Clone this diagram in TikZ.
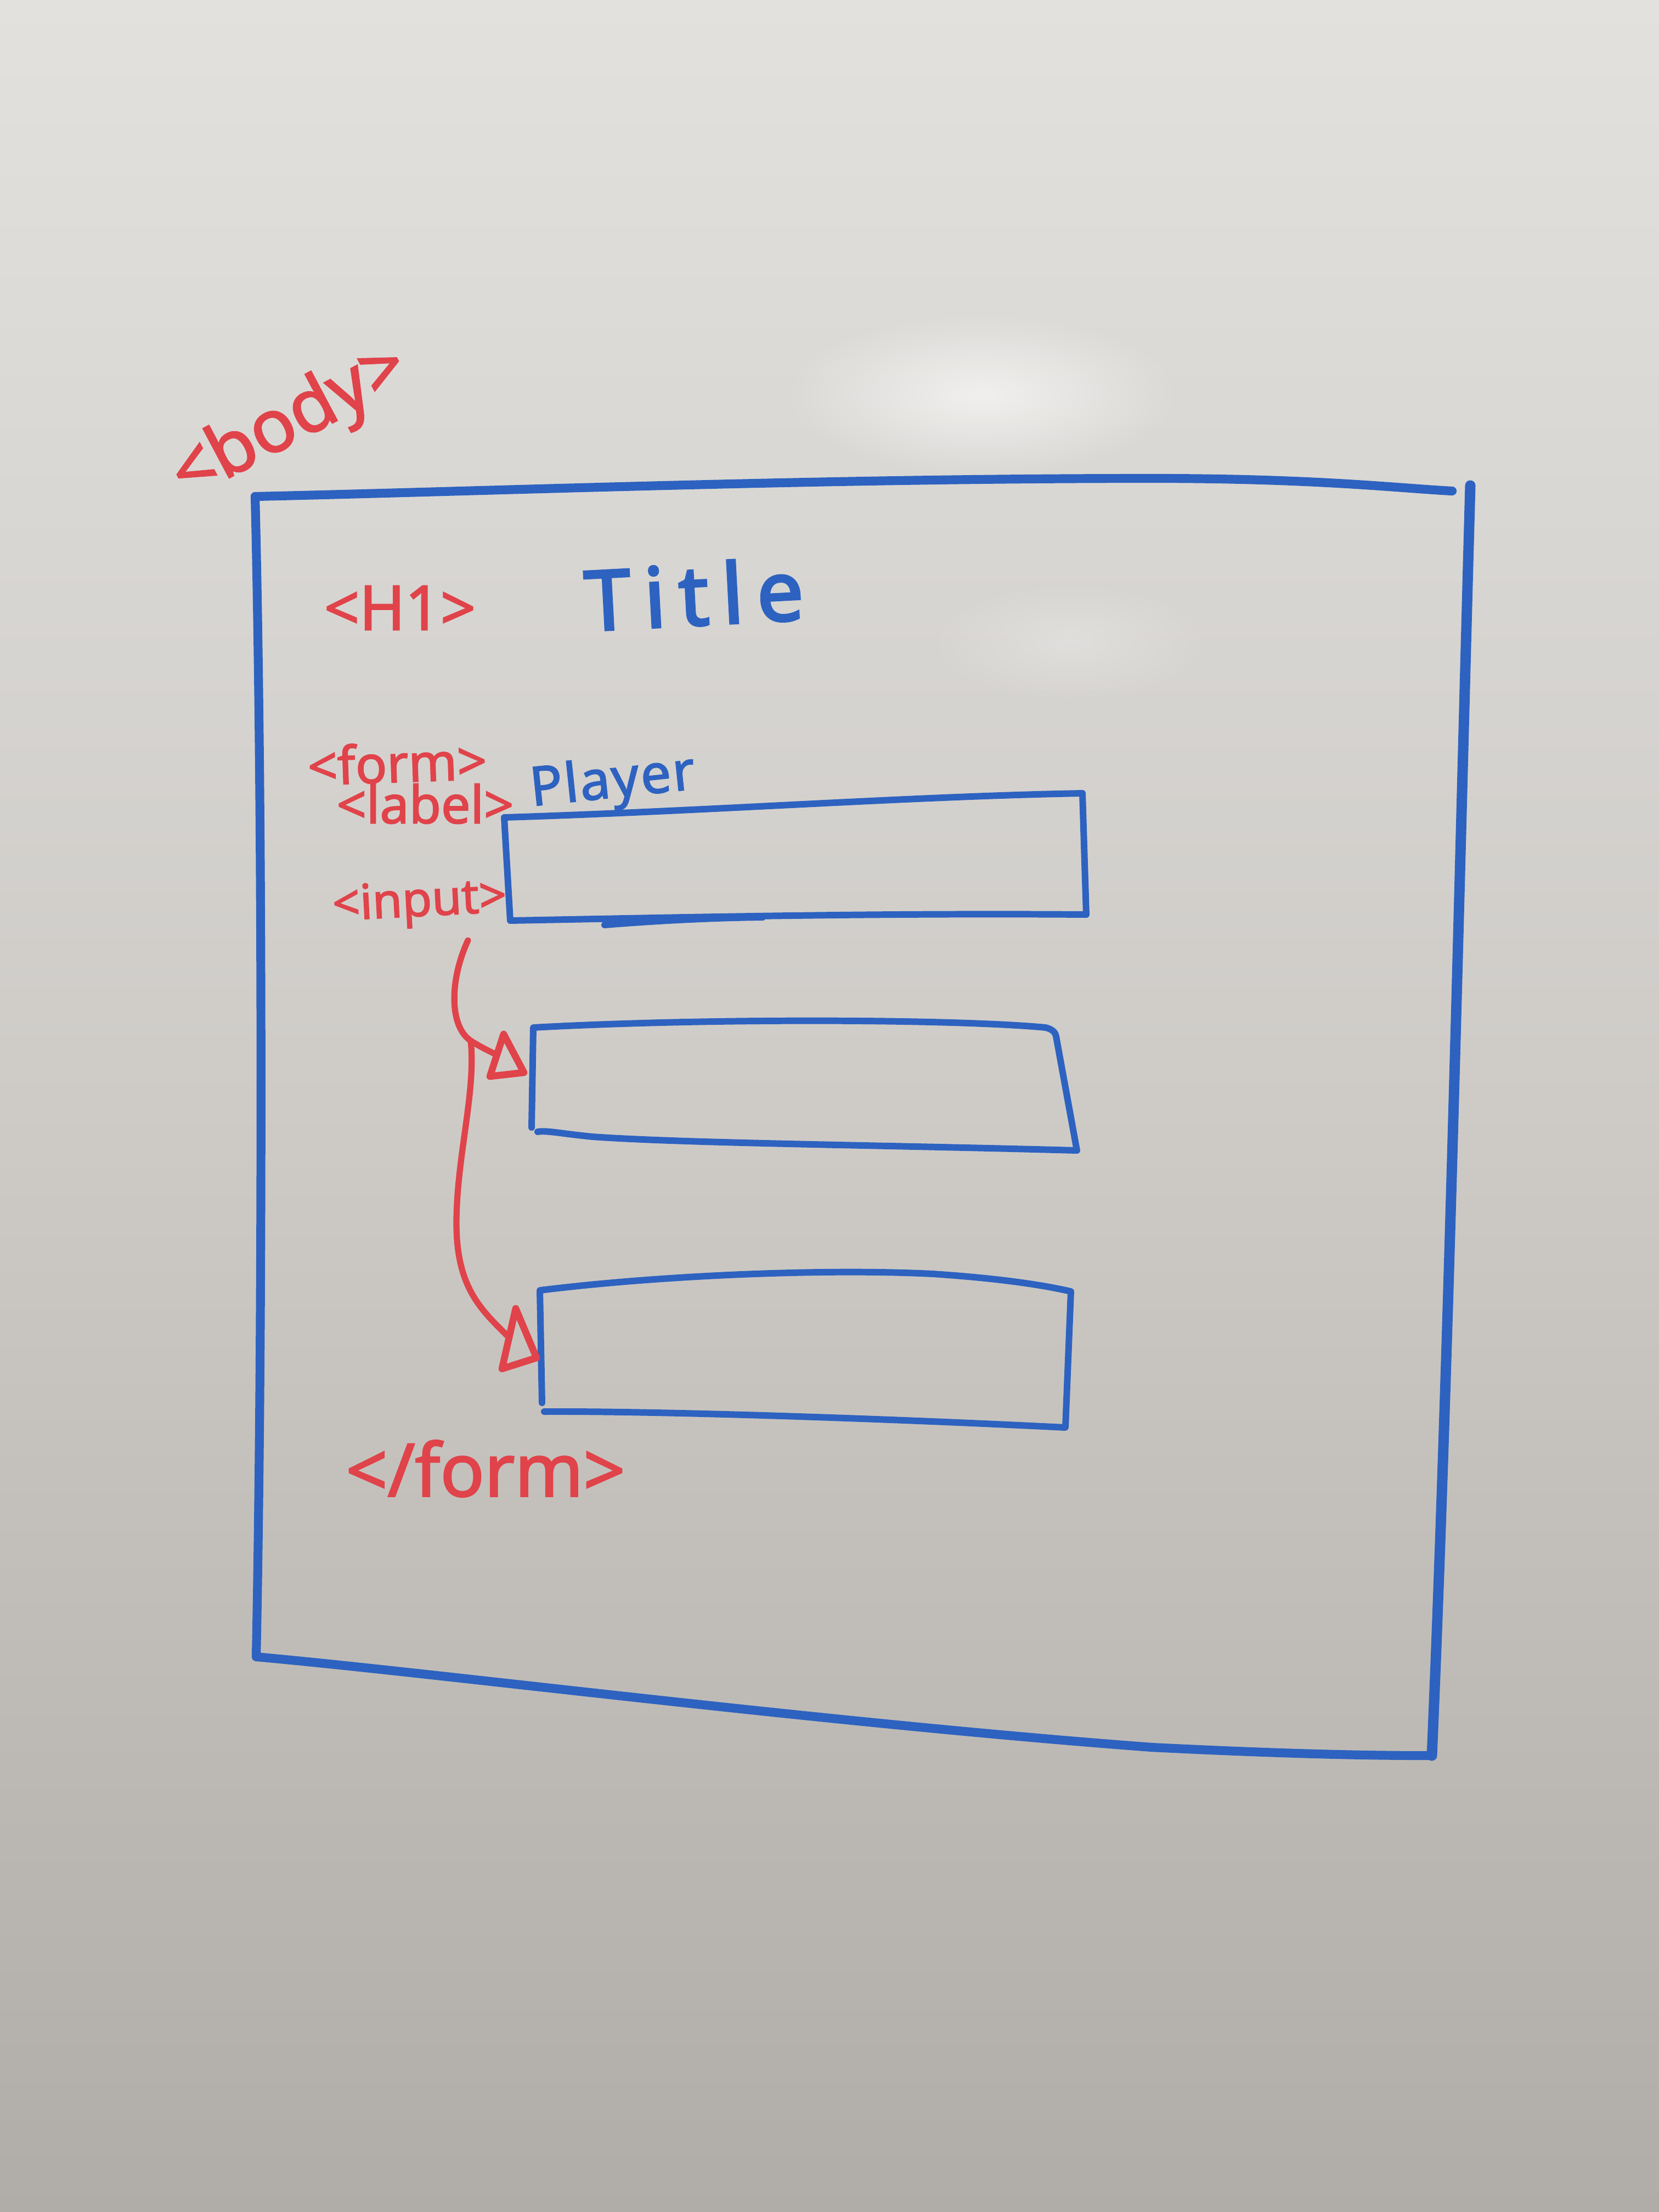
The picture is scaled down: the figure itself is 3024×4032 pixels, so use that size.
\documentclass[tikz,border=0pt]{standalone}
\usepackage{fontspec}
\setmainfont{Noto Sans}
\newfontfamily\marker{Noto Sans}[FakeBold=2]
\newfontfamily\thickmarker{Noto Sans}[FakeBold=3]
\usetikzlibrary{arrows.meta,fadings}
\definecolor{boardtop}{HTML}{E2E1DE}
\definecolor{boardmid}{HTML}{CECBC7}
\definecolor{boardbot}{HTML}{B0ADA8}
\definecolor{markerblue}{HTML}{2D62C0}
\definecolor{markerred}{HTML}{E0434A}
\tikzfading[name=glow, inner color=transparent!0, outer color=transparent!100]

\begin{document}
\begin{tikzpicture}[x=0.01cm,y=-0.01cm,
  frame/.style={draw=markerblue, line width=4.6pt, line cap=round, line join=round},
  field/.style={draw=markerblue, line width=3.4pt, line cap=round, line join=round},
  tag/.style={text=markerred, inner sep=0pt},
  ink/.style={text=markerblue, inner sep=0pt},
  flow/.style={draw=markerred, line width=3.2pt, line cap=round, line join=round},
  head/.style={draw=markerred, line width=3.6pt, line join=round}
]
% whiteboard
\useasboundingbox (0,0) rectangle (3024,4032);
\shade[top color=boardtop, bottom color=boardbot, middle color=boardmid] (0,0) rectangle (3024,4032);
\fill[white, opacity=0.6, path fading=glow] (1790,720) ellipse [x radius=360, y radius=150];
\fill[white, opacity=0.25, path fading=glow] (1950,1170) ellipse [x radius=260, y radius=110];

% body frame
\coordinate (fTL) at (465,905);
\coordinate (fTR) at (2647,895);
\coordinate (fRT) at (2680,885);
\coordinate (fRB) at (2610,3200);
\coordinate (fBL) at (467,3020);
\draw[frame] (fTL) .. controls (900,895) and (1500,872) .. (2100,872) .. controls (2400,872) and (2550,890) .. (fTR);
\draw[frame, line width=5.4pt] (fRT) .. controls (2660,1600) and (2640,2500) .. (fRB);
\draw[frame] (fTL) .. controls (480,1500) and (478,2500) .. (fBL)
  .. controls (800,3050) and (1500,3140) .. (2100,3185) .. controls (2400,3200) and (2550,3200) .. (fRB);

% input fields
\coordinate (aTL) at (919,1490);
\coordinate (aTR) at (1973,1446);
\coordinate (aBR) at (1980,1667);
\coordinate (aBL) at (930,1678);
\draw[field] (aBL) -- (aTL) .. controls (1300,1478) and (1650,1452) .. (aTR) -- (aBR)
  .. controls (1600,1664) and (1250,1672) .. cycle;
\draw[field] (1102,1686) .. controls (1200,1678) and (1300,1673) .. (1390,1672);

\coordinate (bTL) at (972,1873);
\coordinate (bTR) at (1925,1889);
\coordinate (bBR) at (1963,2097);
\coordinate (bBL) at (980,2063);
\draw[field] (969,2055) -- (bTL) .. controls (1300,1855) and (1750,1858) .. (1906,1873)
  .. controls (1918,1876) and (1924,1882) .. (bTR) -- (bBR)
  .. controls (1600,2087) and (1250,2084) .. (1080,2072) .. controls (1020,2066) and (995,2060) .. (bBL);

\coordinate (cTL) at (984,2352);
\coordinate (cTR) at (1952,2354);
\coordinate (cBR) at (1942,2602);
\coordinate (cBL) at (992,2573);
\draw[field] (988,2557) -- (cTL) .. controls (1200,2325) and (1500,2312) .. (1700,2322)
  .. controls (1820,2330) and (1900,2342) .. (cTR) -- (cBR)
  .. controls (1600,2585) and (1200,2572) .. (cBL);

% labels
\node[tag, rotate=28, font=\marker\fontsize{38pt}{44pt}\selectfont] (body) at (530,772) {<body>};
\node[tag, font=\marker\fontsize{32pt}{38pt}\selectfont] (h1) at (729,1108) {<H1>};
\node[ink, rotate=3, font=\thickmarker\fontsize{43pt}{50pt}\selectfont\addfontfeature{LetterSpace=16}] (title) at (1265,1083) {Title};
\node[tag, rotate=2, font=\marker\fontsize{27pt}{32pt}\selectfont] (form) at (724,1390) {<form>};
\node[tag, font=\marker\fontsize{27pt}{32pt}\selectfont] (label) at (775,1465) {<label>};
\node[ink, rotate=6, font=\marker\fontsize{28pt}{34pt}\selectfont\addfontfeature{LetterSpace=3}] (player) at (1117,1428) {Player};
\node[tag, rotate=3, font=\marker\fontsize{25pt}{30pt}\selectfont] (input) at (765,1648) {<input>};
\node[tag, font=\marker\fontsize{38pt}{44pt}\selectfont] (endform) at (885,2677) {</form>};

% repeat arrow: a trunk from <input> forking to the next two fields
\coordinate (src) at (853,1714);
\coordinate (fork) at (858,1897);
\coordinate (endA) at (906,1923);
\coordinate (endB) at (928,2438);
\draw[flow] (src) .. controls (820,1785) and (818,1870) .. (fork)
  .. controls (875,1908) and (892,1916) .. (endA);
\draw[flow] (fork) .. controls (868,1990) and (832,2110) .. (832,2230)
  .. controls (832,2350) and (880,2390) .. (endB);
% open triangular heads
\draw[head] (918,1885) -- (955,1955) -- (893,1962) -- cycle;
\draw[head] (940,2385) -- (978,2475) -- (915,2495) -- cycle;
\end{tikzpicture}
\end{document}
